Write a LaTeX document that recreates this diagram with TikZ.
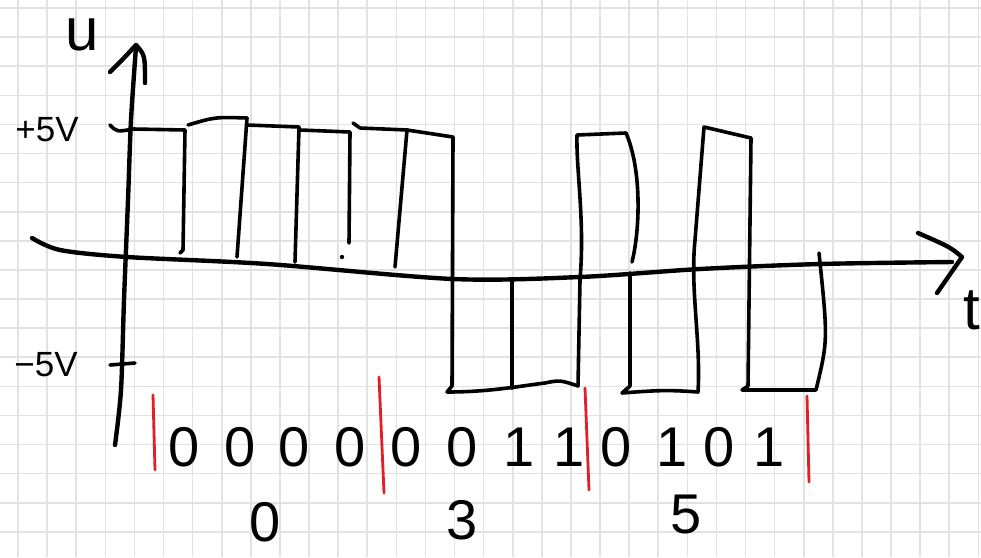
\documentclass[tikz,border=0pt]{standalone}
\usepackage{fontspec}
\setmainfont{Liberation Sans}
\definecolor{penred}{RGB}{228,30,40}
\definecolor{gridgray}{RGB}{226,226,226}
\tikzset{
  gridln/.style={draw=gridgray, line width=1.6pt},
  pen/.style={line width=3.6pt, line cap=round, line join=round},
  axispen/.style={line width=4.4pt, line cap=round, line join=round},
  redbar/.style={draw=penred, line width=2.8pt, line cap=round},
  vlabel/.style={inner sep=0pt, font=\fontsize{35}{35}\selectfont},
  bit/.style={inner sep=0pt, font=\fontsize{56}{56}\selectfont},
  grp/.style={inner sep=0pt, font=\fontsize{56}{56}\selectfont}
}

\begin{document}
\begin{tikzpicture}[x=1pt, y=-1pt]
    \useasboundingbox (0,0) rectangle (981,557);
    \clip (0,0) rectangle (981,557);
    \fill[white] (0,0) rectangle (981,557);
    % grid paper
    \foreach \k in {0,...,33}
      \draw[gridln] ({18+29.1*\k},0) -- ({18+29.1*\k},557);
    \foreach \k in {0,...,18}
      \draw[gridln] (0,{8+29.1*\k}) -- (981,{8+29.1*\k});
    % axes
    \draw[axispen] plot[smooth] coordinates {(115,445) (121,390) (124,300) (128,200) (131,120) (136,47)};
    \draw[axispen] (110,72) .. controls (124,58) .. (136,45) .. controls (145,55) .. (145,83);
    \draw[axispen] plot[smooth] coordinates {(32,238) (60,250) (127,257) (267,264) (453,279) (580,277) (700,269) (820,264) (952,262)};
    \draw[axispen] (918,233) .. controls (950,247) .. (962,257) -- (937,293);
    \draw[pen] (110,365) -- (135,363);
    % signal
    \draw[pen] (110,125) .. controls (117,132) .. (133,129) -- (185,130) -- (183,250) -- (180,253);
    \draw[pen] (188,125) .. controls (215,117) .. (247,118) -- (237,257);
    \draw[pen] (247,125) -- (299,127) -- (295,262);
    \draw[pen] (300,130) -- (350,132) -- (349,243);
    \fill (342,257) circle (2.2);
    \draw[pen] (353,123) -- (360,128) -- (407,130) -- (395,267);
    \draw[pen] (407,130) -- (453,137) -- (452,386) -- (447,392)
      .. controls (490,392) and (520,386) .. (545,383)
      .. controls (560,380) .. (578,386) -- (580,280)
      .. controls (585,220) and (576,170) .. (577,135) -- (626,133)
      .. controls (642,170) and (640,230) .. (632,262);
    \draw[pen] (512,282) -- (512,388);
    \draw[pen] (630,273) -- (630,386) -- (622,393)
      .. controls (660,390) and (670,390) .. (698,392)
      .. controls (701,340) and (690,290) .. (695,240) -- (704,127)
      -- (751,138) -- (748,386) -- (742,390) -- (816,390)
      .. controls (828,340) .. (819,253);
    % separators
    \draw[redbar] (153,395) -- (155,470);
    \draw[redbar] (379,377) -- (384,493);
    \draw[redbar] (585,388) -- (589,490);
    \draw[redbar] (807,396) -- (809,482);
    % labels
    \node[inner sep=0pt, font=\fontsize{60}{60}\selectfont] (lu) at (82,35) {u};
    \node[inner sep=0pt, font=\fontsize{60}{60}\selectfont] (lt) at (972,310) {t};
    \node[vlabel] (lpos) at (47,130) {+5V};
    \node[vlabel] (lneg) at (46,365) {−5V};
    \foreach \x/\b [count=\i] in {184/0,240/0,294/0,350/0,406/0,462/0,519/1,569/1,616/0,672/1,719/0,769/1}
      \node[bit] (b\i) at (\x,447) {\b};
    \node[grp] (g0) at (265,522) {0};
    \node[grp] (g3) at (462,520) {3};
    \node[grp] (g5) at (686,514) {5};
\end{tikzpicture}
\end{document}
